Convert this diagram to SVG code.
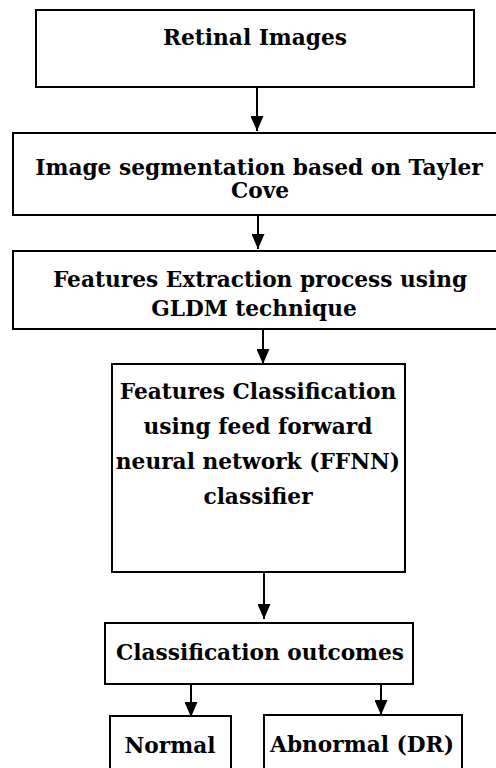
<svg xmlns="http://www.w3.org/2000/svg" width="496" height="768" viewBox="0 0 496 768">
<style>
.box{fill:#fff;stroke:#000;stroke-width:2}
.t{font-family:"DejaVu Serif","Liberation Serif",serif;font-weight:bold;font-size:21.7px;fill:#000;text-anchor:middle}
.c{stroke:#000;stroke-width:2;fill:none;marker-end:url(#ah)}
</style>
<defs>
<marker id="ah" markerUnits="userSpaceOnUse" markerWidth="15" markerHeight="13" refX="15" refY="6.5" orient="auto">
<path d="M0,0 L15,6.5 L0,13 z" fill="#000"/>
</marker>
<clipPath id="c3"><rect x="13" y="251" width="490" height="77"/></clipPath>
</defs>
<rect width="496" height="768" fill="#fff"/>
<g id="n1"><rect class="box" x="36" y="10" width="438" height="77"/><text class="t" x="255" y="45">Retinal Images</text></g>
<g id="n2"><rect class="box" x="13" y="133" width="490" height="82"/><text class="t" x="259" y="175">Image segmentation based on Tayler</text><text class="t" x="260" y="198">Cove</text></g>
<g id="n3"><rect class="box" x="13" y="251" width="490" height="78"/><text class="t" x="260" y="287">Features Extraction process using</text><text class="t" x="254" y="316" clip-path="url(#c3)">GLDM technique</text></g>
<g id="n4"><rect class="box" x="112" y="364" width="293" height="208"/><text class="t" x="258" y="399">Features Classification</text><text class="t" x="258" y="434">using feed forward</text><text class="t" x="258" y="469">neural network (FFNN)</text><text class="t" x="258" y="504">classifier</text></g>
<g id="n5"><rect class="box" x="105" y="623" width="308" height="61"/><text class="t" x="260" y="660">Classification outcomes</text></g>
<g id="n6"><rect class="box" x="110" y="716" width="121" height="70"/><text class="t" x="170" y="753">Normal</text></g>
<g id="n7"><rect class="box" x="264" y="715" width="198" height="70"/><text class="t" x="362" y="752">Abnormal (DR)</text></g>
<g id="connectors">
<line class="c" x1="257" y1="88" x2="257" y2="131"/>
<line class="c" x1="258" y1="216" x2="258" y2="249"/>
<line class="c" x1="263" y1="330" x2="263" y2="364"/>
<line class="c" x1="264" y1="573" x2="264" y2="619"/>
<line class="c" x1="191" y1="685" x2="191" y2="717"/>
<line class="c" x1="381" y1="683" x2="381" y2="715"/>
</g>
</svg>
